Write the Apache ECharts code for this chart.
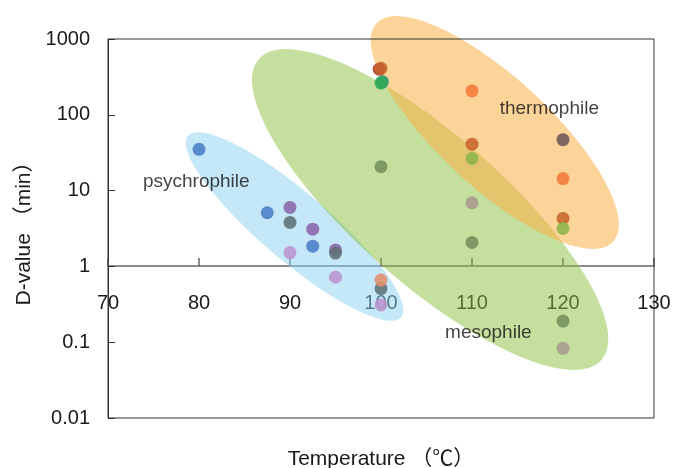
<!DOCTYPE html>
<html>
<head>
<meta charset="utf-8">
<script src="https://cdn.jsdelivr.net/npm/echarts@6/dist/echarts.min.js"></script>
<style>
  html, body { margin: 0; padding: 0; background: #fff; }
  #chart { width: 675px; height: 468px; }
</style>
</head>
<body>
<div id="chart"></div>
<script>
// x ticks / y ticks
var xMin = 70, xMax = 130, xStep = 10;
var yMin = 0.01, yMax = 1000;

// points, grouped by colour  [temperature, D-value]
var bluePts = [[80, 35], [87.5, 5.1], [92.5, 1.85]];
var purplePts = [[90, 6], [92.5, 3.1], [95, 1.65]];
var slatePts = [[90, 3.8], [95, 1.5], [100, 0.51]];
var lilacPts = [[90, 1.52], [95, 0.72], [100, 0.31]];
var salmonPts = [[100, 0.66]];
var darkRedPts = [[99.8, 400]];
var rustPts = [[100, 410], [110, 41], [120, 4.3]];
var tealPts = [[100.15, 272]];
var greenPts = [[100, 262]];
var olivePts = [[100, 20.7], [110, 2.07], [120, 0.19]];
var orangePts = [[110, 207], [120, 14.4]];
var yellowGreenPts = [[110, 26.5], [120, 3.16]];
var mauvePts = [[110, 6.9], [120, 0.083]];
var darkBrownPts = [[120, 47]];

// group regions: centre in data units
var regionNames = ['psychrophile', 'mesophile', 'thermophile'];
var regionCenters = [[90.5, 3.36], [105.4, 5.63], [112.5, 58.4]];
var labelPos = [[79.7, 13], [111.8, 0.132], [118.5, 119]];

// ellipse look (px / deg)
var ellipseLook = [
  { rx: 140, ry: 34, angle: 40.4, color: 'rgba(140,209,241,0.5)' },
  { rx: 228, ry: 74, angle: 41.3, color: 'rgba(139,191,61,0.5)' },
  { rx: 161, ry: 55, angle: 42.7, color: 'rgba(250,175,70,0.55)' }
];

var chart = echarts.init(document.getElementById('chart'));

function pts(name, data, color) {
  return {
    name: name,
    type: 'scatter',
    z: 4,
    symbolSize: 13,
    data: data,
    itemStyle: { color: color, opacity: 0.88 }
  };
}

var option = {
  backgroundColor: '#fff',
  animation: false,
  textStyle: { fontFamily: 'Liberation Sans, Noto Sans CJK JP' },
  grid: {
    left: 108, right: 21, top: 39, bottom: 50,
    outerBoundsMode: 'none',
    containLabel: false,
    show: true, borderColor: '#333', borderWidth: 1,
    backgroundColor: 'transparent', z: 6
  },
  xAxis: {
    type: 'value',
    min: xMin, max: xMax, interval: xStep,
    offset: -152,
    z: 1,
    splitLine: { show: false },
    axisLine: { show: true, lineStyle: { color: '#666', width: 1.5 } },
    axisTick: { show: true, inside: true, length: 8, lineStyle: { color: '#666', width: 1.5 } },
    axisLabel: { color: '#1a1a1a', fontSize: 20, margin: 27 },
    name: 'Temperature （℃）',
    nameLocation: 'middle',
    nameGap: 183,
    nameTextStyle: { color: '#1a1a1a', fontSize: 21 }
  },
  yAxis: {
    type: 'log',
    logBase: 10,
    min: yMin, max: yMax,
    z: 1,
    splitLine: { show: false },
    axisLine: { show: true, lineStyle: { color: '#333', width: 1 } },
    axisTick: { show: true, inside: true, length: 7, lineStyle: { color: '#333' } },
    axisLabel: {
      color: '#1a1a1a', fontSize: 20, margin: 18,
      formatter: function (v) { return String(v); }
    },
    name: 'D-value （min）',
    nameLocation: 'middle',
    nameGap: 62,
    nameTextStyle: { color: '#1a1a1a', fontSize: 21 }
  },
  series: [
    {
      type: 'custom',
      z: 2,
      silent: true,
      data: regionCenters,
      renderItem: function (params, api) {
        var e = ellipseLook[params.dataIndex];
        var c = api.coord([api.value(0), api.value(1)]);
        return {
          type: 'circle',
          shape: { cx: 0, cy: 0, r: e.ry },
          x: c[0], y: c[1],
          scaleX: e.rx / e.ry, scaleY: 1,
          rotation: -e.angle * Math.PI / 180,
          style: { fill: e.color }
        };
      }
    },
    pts('blue', bluePts, '#4a7dc8'),
    pts('purple', purplePts, '#8a65a8'),
    pts('slate', slatePts, '#5e6f76'),
    pts('lilac', lilacPts, '#b994cf'),
    pts('salmon', salmonPts, '#e0906a'),
    pts('darkRed', darkRedPts, '#a83a2a'),
    pts('rust', rustPts, '#c8642c'),
    pts('teal', tealPts, '#1a9080'),
    pts('green', greenPts, '#33aa55'),
    pts('olive', olivePts, '#74905c'),
    pts('orange', orangePts, '#f47a3a'),
    pts('yellowGreen', yellowGreenPts, '#8ab54a'),
    pts('mauve', mauvePts, '#a89a8e'),
    pts('darkBrown', darkBrownPts, '#6b5656'),
    {
      type: 'scatter',
      z: 5,
      symbolSize: 0,
      silent: true,
      data: labelPos.map(function (p, i) { return { value: p, name: regionNames[i] }; }),
      label: {
        show: true,
        position: 'inside',
        formatter: '{b}',
        color: '#111',
        fontSize: 19
      }
    }
  ]
};

chart.setOption(option);
</script>
</body>
</html>
